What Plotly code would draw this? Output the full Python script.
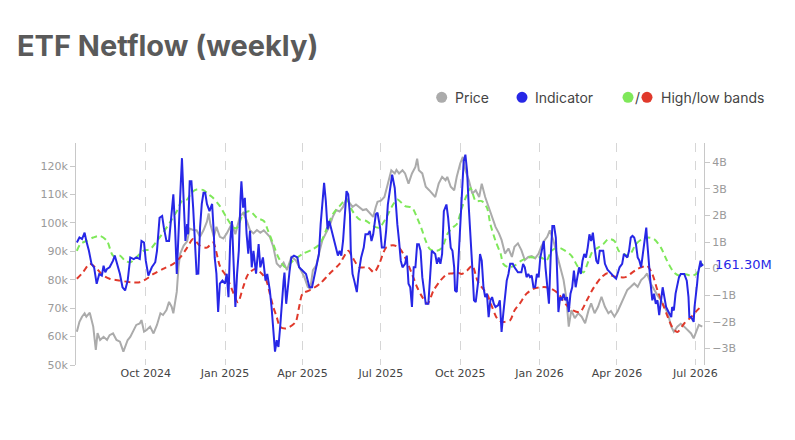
import pandas as pd
import plotly.graph_objects as go

BASE_DATE = "2024-07-12"
X_END = "2026-07-11"

# ---- Price (k USD), day offsets from BASE_DATE ----
price_days = [
    1, 4, 7, 10, 12, 16, 20, 23, 25, 28,
    32, 36, 39, 43, 47, 51, 55, 57, 60, 63,
    67, 70, 74, 76, 79, 82, 86, 90, 94, 98,
    101, 105, 108, 111, 113, 115, 117, 119, 121, 125,
    129, 132, 136, 140, 144, 148, 152, 154, 156, 160,
    163, 167, 171, 175, 181, 185, 190, 194, 198, 202,
    206, 210, 214, 218, 221, 225, 229, 231, 233, 237,
    241, 245, 250, 255, 261, 265, 269, 272, 275, 279,
    283, 286, 290, 294, 298, 302, 306, 310, 314, 317,
    321, 325, 329, 333, 337, 341, 345, 348, 350, 354,
    358, 362, 366, 370, 372, 375, 379, 382, 386, 390,
    394, 396, 398, 402, 406, 410, 413, 417, 421, 425,
    429, 431, 435, 439, 442, 446, 449, 452, 456, 460,
    464, 468, 471, 475, 479, 483, 487, 491, 494, 498,
    502, 506, 509, 513, 517, 521, 525, 529, 533, 537,
    540, 544, 547, 550, 554, 558, 562, 566, 569, 572,
    575, 579, 583, 587, 591, 595, 598, 602, 606, 610,
    614, 618, 621, 625, 629, 633, 636, 640, 644, 648,
    652, 656, 660, 663, 667, 671, 675, 679, 683, 687,
    691, 694, 698, 702, 706, 710, 714, 717, 720, 723,
    727,
]
price_k = [
    61.7, 65.2, 67.0, 68.2, 67.0, 68.4, 63.5, 55.3, 61.2, 58.8,
    59.9, 58.8, 60.5, 61.1, 58.8, 58.2, 54.7, 56.4, 58.8, 59.9,
    62.3, 64.1, 64.6, 65.8, 61.7, 62.3, 63.5, 61.1, 64.1, 68.2,
    67.6, 69.3, 72.2, 70.5, 68.2, 71.7, 75.8, 84.5, 89.2, 92.0,
    93.5, 98.0, 97.5, 97.4, 95.1, 97.4, 100.4, 103.3, 99.5, 95.1,
    98.6, 95.1, 94.5, 96.3, 99.8, 96.0, 102.0, 103.5, 101.0, 97.4,
    96.3, 97.5, 96.5, 97.4, 96.5, 95.1, 91.6, 89.0, 85.7, 84.5,
    86.0, 83.4, 88.0, 86.9, 83.4, 81.0, 77.5, 76.9, 83.4, 85.1,
    90.4, 93.9, 96.3, 98.6, 102.1, 104.5, 104.0, 105.6, 108.5, 107.4,
    105.6, 106.5, 105.6, 104.5, 104.8, 103.3, 102.1, 105.6, 107.4, 107.8,
    109.1, 113.8, 118.5, 117.4, 118.6, 117.4, 118.5, 117.4, 113.8, 117.4,
    119.7, 122.6, 118.5, 117.4, 112.7, 111.5, 110.3, 109.1, 113.8, 116.2,
    115.0, 116.2, 112.7, 111.5, 116.2, 120.9, 123.2, 118.5, 115.0, 110.3,
    111.5, 109.1, 113.8, 109.1, 105.6, 102.1, 98.6, 96.3, 94.0, 89.2,
    91.0, 88.0, 91.6, 92.8, 90.4, 86.9, 88.0, 88.3, 87.5, 89.2,
    91.6, 93.9, 95.1, 97.4, 94.0, 89.2, 84.5, 79.9, 74.0, 63.5,
    69.3, 66.5, 68.2, 67.0, 64.7, 69.3, 71.7, 68.2, 70.5, 74.0,
    70.5, 68.2, 69.0, 67.0, 69.0, 71.7, 74.0, 76.4, 77.5, 78.7,
    77.5, 79.9, 81.0, 82.2, 78.7, 76.4, 74.5, 72.8, 70.5, 68.2,
    63.5, 61.7, 63.5, 64.5, 63.5, 62.3, 61.1, 59.4, 61.5, 64.1,
    63.5,
]

# ---- Indicator (netflow, billions) ----
ind_days = [
    1, 4, 7, 10, 12, 15, 18, 21, 24, 27,
    30, 32, 34, 36, 39, 43, 45, 48, 51, 54,
    57, 60, 63, 67, 70, 74, 76, 79, 81, 84,
    88, 92, 94, 97, 100, 102, 105, 108, 111, 113,
    115, 117, 120, 123, 125, 127, 129, 130, 132, 134,
    136, 138, 140, 142, 144, 146, 148, 150, 152, 155,
    158, 160, 161, 163, 165, 167, 170, 173, 175, 177,
    179, 181, 183, 185, 187, 189, 191, 192, 194, 196,
    198, 200, 202, 204, 206, 209, 212, 214, 217, 220,
    222, 225, 227, 229, 231, 233, 235, 237, 239, 241,
    242, 244, 248, 250, 253, 257, 259, 263, 267, 269,
    271, 274, 277, 279, 282, 284, 286, 288, 290, 292,
    294, 297, 300, 302, 304, 306, 308, 310, 312, 314,
    316, 318, 319, 321, 323, 326, 328, 331, 334, 336,
    339, 341, 343, 345, 348, 350, 353, 355, 358, 360,
    362, 365, 367, 370, 371, 373, 375, 377, 379, 382,
    384, 386, 388, 390, 392, 394, 396, 398, 400, 402,
    404, 406, 409, 411, 413, 417, 419, 421, 423, 425,
    427, 430, 432, 435, 437, 439, 440, 442, 444, 446,
    448, 450, 452, 454, 456, 458, 460, 462, 464, 467,
    469, 471, 473, 475, 477, 479, 481, 483, 485, 487,
    490, 492, 494, 496, 498, 500, 502, 504, 507, 509,
    513, 517, 519, 521, 523, 525, 527, 529, 531, 533,
    535, 537, 539, 541, 543, 545, 547, 549, 551, 553,
    555, 557, 559, 560, 562, 564, 566, 568, 570, 572,
    574, 576, 578, 580, 582, 584, 586, 588, 590, 592,
    594, 596, 598, 600, 602, 604, 606, 608, 612, 614,
    617, 621, 625, 627, 629, 631, 634, 636, 640, 642,
    644, 646, 648, 650, 652, 654, 656, 658, 660, 662,
    663, 665, 667, 669, 671, 673, 675, 677, 679, 681,
    683, 685, 687, 689, 691, 692, 694, 696, 698, 700,
    702, 706, 709, 711, 712, 714, 717, 718, 721, 722,
    725, 726, 728,
]
ind_bn = [
    0.98, 1.17, 1.11, 1.35, 1.04, 0.67, 0.18, 0.05, -0.57, -0.20,
    -0.26, 0.11, -0.14, -0.01, 0.05, 0.30, 0.49, 0.18, -0.20, -0.70,
    -0.82, -0.45, 0.42, 0.36, 0.42, 0.36, 1.04, 0.98, 0.30, -0.26,
    0.05, 0.24, 0.67, 1.91, 1.98, 1.54, 1.04, 1.04, 2.29, 2.79,
    1.54, -0.20, 2.04, 4.15, 2.54, 1.04, 1.67, 1.29, 3.28, 3.28,
    2.29, 1.04, -0.20, -0.19, 1.54, 2.43, 2.85, 2.85, 2.43, 2.16,
    2.43, 1.31, 0.42, -0.19, -1.63, -0.56, -0.45, -0.56, -0.19, -1.07,
    1.04, 1.79, 0.05, -1.44, -0.19, 0.67, 2.66, 3.28, 2.29, 2.66,
    1.31, 0.56, 1.42, 0.05, 0.67, -0.19, 0.92, 0.05, 0.42, -0.45,
    -0.20, -0.82, -1.44, -2.19, -3.12, -2.69, -2.94, -2.19, -1.19, -0.45,
    -0.15, -1.32, -0.07, 0.42, 0.49, 0.42, 0.05, -0.07, -0.20, -0.45,
    -0.70, -0.70, -0.20, 0.05, 0.55, 1.67, 2.66, 3.22, 2.54, 1.48,
    1.79, 1.42, 1.04, 0.79, 0.49, 0.67, 0.49, 1.04, 2.04, 2.91,
    2.79, 2.04, 0.67, -0.20, -0.45, -0.88, -0.20, 0.42, 0.79, 1.29,
    1.29, 1.42, 1.04, 1.29, 2.04, 2.10, 1.54, 0.79, 0.79, 1.42,
    2.41, 3.03, 3.53, 3.03, 2.54, 1.67, 1.04, 0.30, 0.05, 0.18,
    0.49, -0.57, -0.70, -1.44, 0.05, 0.05, 0.92, 0.92, 0.67, -0.32,
    -0.82, -1.32, -1.32, -0.20, 0.67, 0.55, 0.18, 0.42, 0.18, 0.55,
    2.16, 2.41, 1.91, 0.79, 0.67, 0.05, -0.82, -0.88, 0.42, 1.91,
    3.16, 4.03, 4.28, 3.66, 2.29, 1.29, 0.05, -1.19, -1.26, -0.45,
    0.55, 0.30, -0.70, -1.07, -0.94, -1.82, -1.19, -1.07, -1.32, -1.44,
    -1.38, -1.19, -2.38, -1.69, -1.07, -0.45, -0.20, 0.18, 0.18, 0.05,
    -0.14, -0.14, 0.18, 0.05, -0.32, -0.20, -0.32, -0.26, -0.70, -0.70,
    -0.20, -0.32, 0.42, 0.79, 1.04, 0.05, -0.70, -1.32, 0.42, 1.60,
    1.60, 1.17, -0.57, -1.63, -1.07, -1.19, -0.94, -1.19, -1.07, -1.63,
    -0.94, -0.70, -0.07, -0.70, -0.32, 0.05, -0.20, 0.30, 0.55, 0.42,
    0.79, 1.29, 1.04, 1.35, 0.79, 0.30, 0.18, 0.67, 0.67, 0.18,
    -0.04, -0.20, -0.32, -0.38, -0.20, 0.05, 0.18, 0.55, 0.42, 0.67,
    1.17, 1.23, 1.17, 0.92, 0.42, 0.30, 0.05, 0.55, 1.04, 1.54,
    1.04, 0.05, -0.57, -1.19, -0.94, -1.32, -1.19, -1.75, -1.19, -0.70,
    -1.07, -1.44, -1.57, -1.69, -1.82, -1.44, -1.57, -0.94, -0.57, -0.32,
    -0.20, -0.20, -0.45, -1.07, -1.82, -1.82, -2.00, -1.44, -0.57, -0.20,
    0.30, 0.11, 0.1613,
]

# ---- High band (billions) ----
high_days = [
    1, 5, 12, 20, 28, 36, 43, 51, 57, 63,
    70, 78, 86, 94, 101, 109, 117, 123, 129, 134,
    140, 148, 154, 159, 167, 175, 183, 187, 194, 202,
    210, 218, 223, 229, 235, 243, 252, 263, 275, 283,
    290, 298, 306, 314, 321, 329, 337, 345, 352, 360,
    367, 373, 382, 390, 396, 402, 406, 411, 419, 425,
    431, 437, 442, 448, 454, 458, 464, 471, 477, 481,
    487, 493, 496, 502, 509, 517, 525, 533, 540, 546,
    552, 560, 568, 575, 583, 589, 595, 600, 606, 612,
    618, 625, 630, 636, 642, 650, 657, 663, 671, 679,
    686, 694, 700, 706, 714, 720, 725, 728,
]
high_bn = [
    0.67, 0.92, 1.04, 1.17, 1.23, 1.04, 0.49, 0.49, 0.30, 0.24,
    0.42, 0.67, 0.73, 1.04, 1.35, 1.73, 2.16, 2.54, 2.60, 2.85,
    2.97, 2.95, 2.79, 2.66, 2.35, 1.91, 1.54, 1.54, 2.04, 2.16,
    1.91, 1.79, 1.42, 0.92, 0.42, 0.05, 0.30, 0.55, 0.73, 0.92,
    1.42, 2.04, 2.35, 2.60, 2.16, 1.85, 1.79, 1.60, 1.54, 1.91,
    2.35, 2.60, 2.35, 2.29, 1.91, 1.42, 1.04, 0.73, 0.67, 0.79,
    1.29, 1.54, 1.67, 2.29, 2.79, 3.03, 2.54, 2.54, 2.29, 1.67,
    1.04, 0.55, 0.18, 0.05, 0.11, 0.30, 0.42, 0.42, 0.42, 0.30,
    0.67, 0.79, 0.67, 0.49, 0.05, -0.14, 0.30, 0.67, 0.79, 0.92,
    1.11, 1.04, 0.67, 0.55, 0.49, 0.92, 1.11, 1.17, 1.11, 0.79,
    0.30, -0.14, -0.26, -0.20, -0.26, -0.20, 0.11, 0.18,
]

# ---- Low band (billions) ----
low_days = [
    1, 8, 16, 24, 32, 39, 51, 63, 74, 82,
    90, 101, 113, 121, 129, 136, 144, 152, 159, 167,
    175, 183, 188, 194, 200, 208, 216, 221, 225, 229,
    233, 237, 243, 248, 255, 259, 263, 271, 283, 294,
    306, 316, 321, 329, 339, 346, 352, 360, 368, 375,
    382, 390, 396, 402, 408, 415, 423, 431, 437, 442,
    448, 454, 460, 466, 471, 477, 483, 489, 494, 498,
    504, 509, 515, 523, 531, 539, 546, 552, 560, 568,
    577, 585, 593, 599, 604, 610, 617, 622, 630, 638,
    646, 652, 658, 663, 669, 675, 681, 687, 692, 698,
    706, 714, 721, 727,
]
low_bn = [
    -0.38, -0.14, 0.18, -0.01, -0.26, -0.38, -0.45, -0.51, -0.51, -0.38,
    -0.20, -0.01, 0.18, 0.42, 0.79, 1.11, 0.86, 0.79, 0.98, 0.10,
    -0.32, -0.94, -1.26, -0.70, -0.20, -0.01, -0.20, -0.45, -0.94, -1.44,
    -1.82, -2.19, -2.25, -2.19, -2.00, -1.44, -0.94, -0.82, -0.57, -0.20,
    0.18, 0.67, 0.42, 0.05, 0.05, -0.14, 0.18, 0.79, 0.88, 0.79,
    0.42, -0.20, -0.70, -1.07, -1.32, -0.82, -0.45, -0.20, -0.18, -0.14,
    -0.20, -0.07, 0.11, -0.45, -0.70, -0.94, -1.44, -1.88, -2.00, -2.00,
    -1.94, -1.57, -1.32, -0.94, -0.76, -0.70, -0.70, -0.76, -0.94, -1.32,
    -1.57, -1.63, -1.19, -0.82, -0.57, -0.32, -0.17, -0.26, -0.32, -0.32,
    -0.14, -0.01, 0.07, 0.11, -0.20, -0.82, -1.32, -1.82, -2.19, -2.38,
    -2.06, -1.82, -1.57, -1.38,
]

# ---- Axis ticks ----
price_tick_vals = [50, 60, 70, 80, 90, 100, 110, 120]
price_tick_text = ["50k", "60k", "70k", "80k", "90k", "100k", "110k", "120k"]
flow_tick_vals = [-3, -2, -1, 0, 1, 2, 3, 4]
flow_tick_text = ["\u22123B", "\u22122B", "\u22121B", "0", "1B", "2B", "3B", "4B"]

assert len(price_days) == len(price_k)
assert len(ind_days) == len(ind_bn)
assert len(high_days) == len(high_bn)
assert len(low_days) == len(low_bn)

base = pd.Timestamp(BASE_DATE)


def to_dates(days):
    return base + pd.to_timedelta(days, unit="D")


C_PRICE = "#ababab"
C_IND = "#2727e6"
C_HIGH = "#7fe85a"
C_LOW = "#e0392b"
TICK_FONT = dict(family="DejaVu Sans", size=11, color="#9a9a9a")

fig = go.Figure()
fig.add_trace(go.Scatter(x=to_dates(price_days), y=price_k, mode="lines",
                         line=dict(color=C_PRICE, width=2), yaxis="y", name="Price"))
fig.add_trace(go.Scatter(x=to_dates(high_days), y=high_bn, mode="lines",
                         line=dict(color=C_HIGH, width=2, dash="6px,4px", shape="spline", smoothing=0.8),
                         yaxis="y2", name="High band"))
fig.add_trace(go.Scatter(x=to_dates(low_days), y=low_bn, mode="lines",
                         line=dict(color=C_LOW, width=2, dash="6px,4px", shape="spline", smoothing=0.8),
                         yaxis="y2", name="Low band"))
fig.add_trace(go.Scatter(x=to_dates(ind_days), y=ind_bn, mode="lines",
                         line=dict(color=C_IND, width=2), yaxis="y2", name="Indicator"))

annotations = [
    dict(text=f"{ind_bn[-1] * 1000:.2f}M", x=1.015, xref="paper", y=ind_bn[-1], yref="y2",
         xanchor="left", yanchor="middle", showarrow=False,
         font=dict(family="DejaVu Sans", size=13, color=C_IND)),
]
legend_font = dict(family="Inter", size=14, color="#444444")
LEG_Y = 1.206
for label, xpos in [("Price", 0.6003), ("Indicator", 0.7282), ("High/low bands", 0.9283)]:
    annotations.append(dict(text=label, x=xpos, xref="paper", y=LEG_Y, yref="paper",
                            xanchor="left", yanchor="middle", showarrow=False, font=legend_font))
annotations.append(dict(text="/", x=0.8941, xref="paper", y=LEG_Y, yref="paper",
                        xanchor="center", yanchor="middle", showarrow=False, font=legend_font))

shapes = []
for color, xc in [(C_PRICE, 0.5823), (C_IND, 0.7102), (C_HIGH, 0.8790), (C_LOW, 0.9092)]:
    shapes.append(dict(type="circle", xref="paper", yref="paper",
                       xsizemode="pixel", ysizemode="pixel",
                       xanchor=xc, yanchor=LEG_Y, x0=-5.5, x1=5.5, y0=-5.5, y1=5.5,
                       fillcolor=color, line=dict(width=0)))

fig.update_layout(
    width=795, height=440, autosize=False,
    margin=dict(l=76, r=91, t=143, b=75),
    paper_bgcolor="white", plot_bgcolor="white",
    showlegend=False,
    title=dict(text="ETF Netflow (weekly)", x=17 / 795, xanchor="left", xref="container",
               y=1 - 46 / 440, yanchor="middle", yref="container",
               font=dict(family="Inter", size=29, color="#5a5a5a", weight=700)),
    xaxis=dict(type="date", range=[BASE_DATE, X_END], tick0="2024-10-01", dtick="M3",
               tickformat="%b %Y", showgrid=True, gridcolor="#d6d6d6", griddash="dash",
               gridwidth=1, showline=False, zeroline=False, ticks="",
               tickfont=dict(family="DejaVu Sans", size=11, color="#444444")),
    yaxis=dict(range=[50, 128.1], tickvals=price_tick_vals, ticktext=price_tick_text,
               showgrid=False, zeroline=False, showline=True, linecolor="#c8c8c8",
               ticks="outside", ticklen=5, tickcolor="#c8c8c8", tickfont=TICK_FONT),
    yaxis2=dict(range=[-3.62, 4.72], tickvals=flow_tick_vals, ticktext=flow_tick_text,
                overlaying="y", side="right", showgrid=False, zeroline=False,
                showline=True, linecolor="#c8c8c8", ticks="outside", ticklen=5,
                tickcolor="#c8c8c8", tickfont=TICK_FONT),
    annotations=annotations,
    shapes=shapes,
)

fig.write_html("out.html")
